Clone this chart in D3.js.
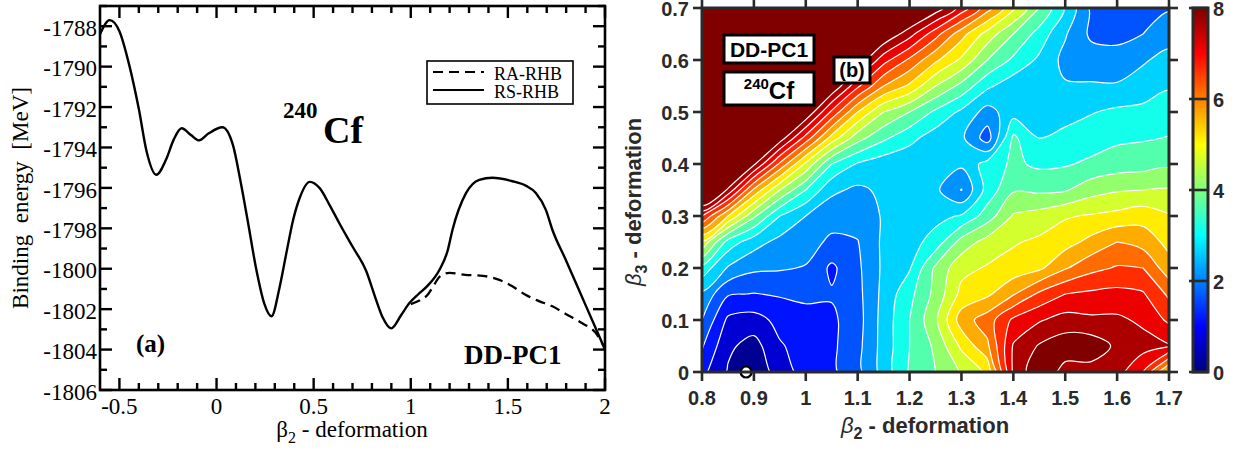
<!DOCTYPE html>
<html><head><meta charset="utf-8">
<script src="https://cdn.jsdelivr.net/npm/d3@7/dist/d3.min.js"></script>
<style>html,body{margin:0;padding:0;background:#fff;}svg{display:block;}</style>
</head><body>
<svg id="chart" width="1235" height="451" xmlns="http://www.w3.org/2000/svg"></svg>
<script>
// ---------------- Left panel data ----------------
const solidBeta = [-0.60,-0.55,-0.50,-0.45,-0.40,-0.36,-0.31,-0.26,-0.22,-0.18,-0.13,-0.09,-0.04,0.03,0.085,0.12,0.16,0.205,0.245,0.283,0.325,0.36,0.394,0.428,0.48,0.53,0.585,0.635,0.70,0.77,0.82,0.855,0.90,0.95,0.993,1.04,1.086,1.148,1.19,1.215,1.285,1.353,1.42,1.523,1.594,1.644,1.696,1.729,1.80,1.90,2.00];
const solidEnergy = [-1788.4,-1787.7,-1788.25,-1789.9,-1792.1,-1794.2,-1795.35,-1794.6,-1793.6,-1793.05,-1793.4,-1793.65,-1793.3,-1793.0,-1793.9,-1795.5,-1797.6,-1800.05,-1801.7,-1802.35,-1800.9,-1799.2,-1797.6,-1796.5,-1795.7,-1796.0,-1796.9,-1797.8,-1798.9,-1800.1,-1801.5,-1802.4,-1802.95,-1802.3,-1801.7,-1801.25,-1800.85,-1800.05,-1799.1,-1798.07,-1796.25,-1795.6,-1795.5,-1795.67,-1795.9,-1796.25,-1797.1,-1798.07,-1799.6,-1801.8,-1804.0];
const dashBeta = [1.0,1.05,1.086,1.12,1.148,1.2,1.28,1.37,1.456,1.523,1.593,1.66,1.729,1.80,1.883,1.95,2.0];
const dashEnergy = [-1801.75,-1801.55,-1801.3,-1800.8,-1800.4,-1800.2,-1800.3,-1800.35,-1800.55,-1800.87,-1801.3,-1801.6,-1801.86,-1802.25,-1802.7,-1803.15,-1803.95];
const leftXTicks = [-0.5,0,0.5,1,1.5,2];
const leftXLabels = ["-0.5","0","0.5","1","1.5","2"];
const leftYTicks = [-1806,-1804,-1802,-1800,-1798,-1796,-1794,-1792,-1790,-1788];
const legendNames = ["RA-RHB","RS-RHB"];

// ---------------- Right panel data (energy surface, MeV) ----------------
const mapBeta2 = [0.8,0.85,0.9,0.95,1.0,1.05,1.1,1.15,1.2,1.25,1.3,1.35,1.4,1.45,1.5,1.55,1.6,1.65,1.7];
const mapBeta3 = [0.7,0.65,0.6,0.55,0.5,0.45,0.4,0.35,0.3,0.25,0.2,0.15,0.1,0.05,0]; // rows top -> bottom
const energyGrid = [
 [12,12,12,12,12,12,11,10,9,8.3,7.3,6.2,5.1,4.0,2.95,1.9,1.75,1.75,1.95],
 [12,12,12,12,12,11,10,8.5,7.7,6.7,5.7,4.8,4.0,3.3,2.55,1.9,1.85,2.0,2.3],
 [12,12,12,12,11,10,8.4,7.2,6.4,5.6,4.9,4.0,3.4,2.9,2.35,2.25,2.2,2.45,2.65],
 [12,12,12,11,10,8.5,7.1,6.0,5.4,4.5,3.85,3.1,2.7,2.6,2.55,2.55,2.55,2.7,2.95],
 [12,12,11,9.6,8.5,6.9,5.5,4.5,4.0,3.4,2.9,2.3,2.8,2.75,2.8,2.97,3.1,3.15,3.25],
 [12,11,9.8,8.3,6.8,5.3,4.2,3.6,3.15,2.75,2.6,1.75,3.6,3.0,3.15,3.25,3.4,3.45,3.52],
 [12,9.5,8.1,6.4,4.9,3.5,2.95,2.7,2.65,2.7,2.6,3.2,3.6,3.4,3.45,3.6,3.75,3.8,3.9],
 [9.5,7.9,5.9,4.5,3.5,2.6,2.4,2.6,2.65,2.6,1.98,3.2,3.95,3.9,3.95,4.3,4.45,4.5,4.55],
 [7.0,5.5,4.1,3.0,2.5,2.2,2.2,2.55,2.7,2.85,3.05,3.75,4.55,4.7,4.95,5.05,5.15,5.3,5.05],
 [4.9,3.3,2.7,2.35,2.2,1.9,1.98,2.6,2.8,3.2,4.2,4.7,4.95,5.1,5.3,5.65,6.0,5.8,5.35],
 [3.3,2.45,2.1,2.05,1.97,1.4,1.9,2.6,2.95,4.1,4.85,5.05,5.2,5.4,5.95,6.35,6.55,6.5,5.7],
 [2.4,1.55,1.48,1.55,1.62,1.55,1.85,2.65,3.35,4.15,5.15,5.4,5.95,6.6,7.0,7.1,7.15,7.05,6.4],
 [2.0,0.9,0.8,1.15,1.3,1.4,1.8,2.7,3.5,4.4,5.75,6.25,7.1,7.45,7.7,7.6,7.6,7.4,6.9],
 [1.55,0.6,0.3,0.95,1.2,1.4,1.85,2.7,3.5,4.1,5.1,5.9,7.55,8.05,8.3,8.3,7.9,7.7,7.55],
 [1.15,0.45,0.1,0.75,1.2,1.4,1.85,2.7,3.55,4.0,4.55,5.1,7.6,8.4,7.8,7.8,7.7,7.0,5.3]
];
const contourLevels = [0,0.5,1,1.5,2,2.5,3,3.5,4,4.5,5,5.5,6,6.5,7,7.5,8];
const mapXTicks = [0.8,0.9,1.0,1.1,1.2,1.3,1.4,1.5,1.6,1.7];
const mapXLabels = ["0.8","0.9","1","1.1","1.2","1.3","1.4","1.5","1.6","1.7"];
const mapYTicks = [0,0.1,0.2,0.3,0.4,0.5,0.6,0.7];
const mapYLabels = ["0","0.1","0.2","0.3","0.4","0.5","0.6","0.7"];
const colorbarTicks = [0,2,4,6,8];
const minimumPoint = [0.885, 0];

// ---------------- helpers ----------------
const svg = d3.select("#chart");
const clamp01 = v => Math.max(0, Math.min(1, v));
function jet(t){
  t = clamp01(t);
  const r = clamp01(1.5 - Math.abs(4*t - 3));
  const g = clamp01(1.5 - Math.abs(4*t - 2));
  const b = clamp01(1.5 - Math.abs(4*t - 1));
  return d3.rgb(Math.round(r*255), Math.round(g*255), Math.round(b*255)).formatHex();
}
const cMax = 8;
const bandColor = lv => lv >= cMax ? jet(1) : jet((lv + 0.15)/cMax);

// ================= LEFT PANEL =================
const L = {x0:100, x1:605, y0:6, y1:390};
const xL = d3.scaleLinear([-0.6, 2.0], [L.x0, L.x1]);
const yL = d3.scaleLinear([-1806, -1787], [L.y1, L.y0]);
const gL = svg.append("g");
const serif = "'Liberation Serif','Times New Roman',Times,serif";

const lineGen = d3.line().curve(d3.curveMonotoneX);
gL.append("path")
  .attr("d", lineGen(dashBeta.map((b,i)=>[xL(b), yL(dashEnergy[i])])))
  .attr("fill","none").attr("stroke","#000").attr("stroke-width",2.3)
  .attr("stroke-dasharray","10,6");
gL.append("path")
  .attr("d", lineGen(solidBeta.map((b,i)=>[xL(b), yL(solidEnergy[i])])))
  .attr("fill","none").attr("stroke","#000").attr("stroke-width",2.4);

// ticks (inward on all sides)
const majLen = 12, minLen = 7;
const xMinor = d3.range(-5, 20).map(i => i/10).filter(v => v > -0.6 && v < 2.0 && !leftXTicks.some(t => Math.abs(t-v) < 1e-9));
const yMinor = d3.range(-1805, -1786, 2);
function xTick(v, len){
  gL.append("line").attr("x1",xL(v)).attr("x2",xL(v)).attr("y1",L.y1).attr("y2",L.y1-len);
  gL.append("line").attr("x1",xL(v)).attr("x2",xL(v)).attr("y1",L.y0).attr("y2",L.y0+len);
}
function yTick(v, len){
  gL.append("line").attr("y1",yL(v)).attr("y2",yL(v)).attr("x1",L.x0).attr("x2",L.x0+len);
  gL.append("line").attr("y1",yL(v)).attr("y2",yL(v)).attr("x1",L.x1).attr("x2",L.x1-len);
}
leftXTicks.forEach(v => xTick(v, majLen));
xMinor.forEach(v => xTick(v, minLen));
leftYTicks.forEach(v => yTick(v, majLen));
yMinor.forEach(v => yTick(v, minLen));
gL.selectAll("line").attr("stroke","#000").attr("stroke-width",2.4);

gL.append("rect").attr("x",L.x0).attr("y",L.y0).attr("width",L.x1-L.x0).attr("height",L.y1-L.y0)
  .attr("fill","none").attr("stroke","#000").attr("stroke-width",2.6);

// tick labels
leftXTicks.forEach((v,i) => {
  gL.append("text").attr("x",xL(v)).attr("y",414).attr("text-anchor","middle")
    .attr("font-family",serif).attr("font-size",23).text(leftXLabels[i]);
});
leftYTicks.forEach(v => {
  gL.append("text").attr("x",97).attr("y",yL(v)).attr("dy","0.42em").attr("text-anchor","end")
    .attr("font-family",serif).attr("font-size",23).text(String(v));
});
// axis titles
const xt = gL.append("text").attr("x",352).attr("y",437).attr("text-anchor","middle")
  .attr("font-family",serif).attr("font-size",23);
xt.append("tspan").text("β");
xt.append("tspan").attr("font-size",16).attr("dy",6).text("2");
xt.append("tspan").attr("dy",-6).text(" - deformation");
gL.append("text").attr("transform","translate(28,198) rotate(-90)").attr("text-anchor","middle")
  .attr("font-family",serif).attr("font-size",23).attr("xml:space","preserve")
  .text("Binding  energy  [MeV]");

// legend
gL.append("rect").attr("x",427).attr("y",61).attr("width",146).attr("height",43)
  .attr("fill","#fff").attr("stroke","#000").attr("stroke-width",1.6);
gL.append("line").attr("x1",433).attr("x2",484).attr("y1",72).attr("y2",72)
  .attr("stroke","#000").attr("stroke-width",2.2).attr("stroke-dasharray","10,6");
gL.append("line").attr("x1",433).attr("x2",484).attr("y1",90).attr("y2",90)
  .attr("stroke","#000").attr("stroke-width",2.2);
legendNames.forEach((n,i) => {
  gL.append("text").attr("x",494).attr("y",80 + i*18).attr("font-family",serif)
    .attr("font-size",18).text(n);
});
// annotations
gL.append("text").attr("x",283).attr("y",118).attr("font-family",serif).attr("font-weight","bold")
  .attr("font-size",23).text("240");
gL.append("text").attr("x",323).attr("y",143).attr("font-family",serif).attr("font-weight","bold")
  .attr("font-size",38).text("Cf");
gL.append("text").attr("x",136).attr("y",352).attr("font-family",serif).attr("font-weight","bold")
  .attr("font-size",25).text("(a)");
gL.append("text").attr("x",464).attr("y",364).attr("font-family",serif).attr("font-weight","bold")
  .attr("font-size",27).text("DD-PC1");

// ================= RIGHT PANEL =================
const R = {x0:702, x1:1169, y0:8, y1:372};
const xR = d3.scaleLinear([0.8, 1.7], [R.x0, R.x1]);
const yR = d3.scaleLinear([0, 0.7], [R.y1, R.y0]);
const gR = svg.append("g");
const sans = "'Liberation Sans',Arial,Helvetica,sans-serif";
const ink = "#2a2a2a";

const defs = svg.append("defs");
defs.append("clipPath").attr("id","mapClip").append("rect")
  .attr("x",R.x0).attr("y",R.y0).attr("width",R.x1-R.x0).attr("height",R.y1-R.y0);

const nx = mapBeta2.length, ny = mapBeta3.length;
const values = [];
for (let r = 0; r < ny; r++) for (let c = 0; c < nx; c++) values.push(energyGrid[r][c]);
const gx = d3.scaleLinear([0.5, nx-0.5], [xR(mapBeta2[0]), xR(mapBeta2[nx-1])]);
const gy = d3.scaleLinear([0.5, ny-0.5], [yR(mapBeta3[0]), yR(mapBeta3[ny-1])]);
const contours = d3.contours().size([nx, ny]).thresholds(contourLevels)(values);
const ringLine = d3.line().curve(d3.curveCatmullRomClosed.alpha(0.5));
function contourPath(mp){
  return mp.coordinates.map(poly => poly.map(ring => {
    const pts = ring.slice(0, -1).map(p => [gx(p[0]), gy(p[1])]);
    return pts.length > 2 ? ringLine(pts) : "";
  }).join("")).join("");
}

const gMap = gR.append("g").attr("clip-path","url(#mapClip)");
gMap.selectAll("path.fill").data(contours).join("path").attr("class","fill")
  .attr("d", contourPath).attr("fill", d => bandColor(d.value)).attr("fill-rule","evenodd")
  .attr("stroke","none");
gMap.selectAll("path.iso").data(contours.filter(d => d.value > 0)).join("path").attr("class","iso")
  .attr("d", contourPath).attr("fill","none").attr("stroke","#fff").attr("stroke-width",1.2)
  .attr("stroke-linejoin","round");

// minimum marker
gR.append("circle").attr("cx",xR(minimumPoint[0])).attr("cy",yR(minimumPoint[1])).attr("r",5.5)
  .attr("fill","#fff").attr("stroke","#000").attr("stroke-width",2.2);

// frame + outward ticks
const tLen = 9;
mapXTicks.forEach(v => {
  gR.append("line").attr("class","tk").attr("x1",xR(v)).attr("x2",xR(v)).attr("y1",R.y1).attr("y2",R.y1+tLen);
  gR.append("line").attr("class","tk").attr("x1",xR(v)).attr("x2",xR(v)).attr("y1",R.y0).attr("y2",R.y0-tLen);
});
mapYTicks.forEach(v => {
  gR.append("line").attr("class","tk").attr("y1",yR(v)).attr("y2",yR(v)).attr("x1",R.x0).attr("x2",R.x0-tLen);
  gR.append("line").attr("class","tk").attr("y1",yR(v)).attr("y2",yR(v)).attr("x1",R.x1).attr("x2",R.x1+tLen);
});
gR.selectAll("line.tk").attr("stroke",ink).attr("stroke-width",2.6);
gR.append("rect").attr("x",R.x0).attr("y",R.y0).attr("width",R.x1-R.x0).attr("height",R.y1-R.y0)
  .attr("fill","none").attr("stroke",ink).attr("stroke-width",3);

// tick labels
mapXTicks.forEach((v,i) => {
  gR.append("text").attr("x",xR(v)).attr("y",405).attr("text-anchor","middle")
    .attr("font-family",sans).attr("font-weight","bold").attr("font-size",20).attr("fill",ink)
    .text(mapXLabels[i]);
});
mapYTicks.forEach((v,i) => {
  gR.append("text").attr("x",689).attr("y",yR(v)).attr("dy","0.4em").attr("text-anchor","end")
    .attr("font-family",sans).attr("font-weight","bold").attr("font-size",20).attr("fill",ink)
    .text(mapYLabels[i]);
});
// axis titles
const xtR = gR.append("text").attr("x",925).attr("y",433).attr("text-anchor","middle")
  .attr("font-family",sans).attr("font-weight","bold").attr("font-size",22).attr("fill",ink);
xtR.append("tspan").attr("font-style","italic").attr("font-weight","normal").text("β");
xtR.append("tspan").attr("font-size",16).attr("dy",6).text("2");
xtR.append("tspan").attr("dy",-6).text(" - deformation");
const ytR = gR.append("text").attr("transform","translate(641,202) rotate(-90)").attr("text-anchor","middle")
  .attr("font-family",sans).attr("font-weight","bold").attr("font-size",22).attr("fill",ink);
ytR.append("tspan").attr("font-style","italic").attr("font-weight","normal").text("β");
ytR.append("tspan").attr("font-size",16).attr("dy",6).text("3");
ytR.append("tspan").attr("dy",-6).text(" - deformation");

// labels in boxes
function box(x, y, w, h){
  gR.append("rect").attr("x",x).attr("y",y).attr("width",w).attr("height",h)
    .attr("fill","#fff").attr("stroke","#000").attr("stroke-width",3);
}
box(724, 35, 90, 28);
gR.append("text").attr("x",769).attr("y",57).attr("text-anchor","middle").attr("font-family",sans)
  .attr("font-weight","bold").attr("font-size",21).attr("fill","#000").text("DD-PC1");
box(724, 72, 90, 33);
const cfT = gR.append("text").attr("x",769).attr("y",99).attr("text-anchor","middle").attr("font-family",sans)
  .attr("font-weight","bold").attr("fill","#000");
cfT.append("tspan").attr("font-size",15).attr("dy",-10).text("240");
cfT.append("tspan").attr("font-size",24).attr("dy",10).text("Cf");
box(834, 57, 36, 26);
gR.append("text").attr("x",852).attr("y",77).attr("text-anchor","middle").attr("font-family",sans)
  .attr("font-weight","bold").attr("font-size",20).attr("fill","#000").text("(b)");

// colorbar
const CB = {x0:1193, x1:1208, y0:8, y1:372};
const cbScale = d3.scaleLinear([0, cMax], [CB.y1, CB.y0]);
const grad = defs.append("linearGradient").attr("id","jetGrad")
  .attr("x1",0).attr("y1",1).attr("x2",0).attr("y2",0);
d3.range(0, 33).forEach(i => {
  const t = i/32;
  grad.append("stop").attr("offset", t).attr("stop-color", jet(t));
});
gR.append("rect").attr("x",CB.x0).attr("y",CB.y0).attr("width",CB.x1-CB.x0).attr("height",CB.y1-CB.y0)
  .attr("fill","url(#jetGrad)").attr("stroke",ink).attr("stroke-width",3);
colorbarTicks.forEach(v => {
  gR.append("line").attr("x1",CB.x0-4).attr("x2",CB.x1).attr("y1",cbScale(v)).attr("y2",cbScale(v))
    .attr("stroke",ink).attr("stroke-width",2.6);
  gR.append("text").attr("x",1213).attr("y",cbScale(v)).attr("dy","0.4em")
    .attr("font-family",sans).attr("font-weight","bold").attr("font-size",20).attr("fill",ink)
    .text(String(v));
});
</script>
</body></html>
